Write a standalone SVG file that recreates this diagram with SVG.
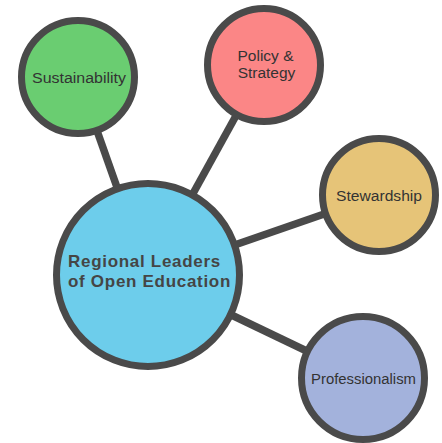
<svg xmlns="http://www.w3.org/2000/svg" width="442" height="443" viewBox="0 0 442 443">
<style>
.c{stroke:#4a4a4a;stroke-width:7}
.l{stroke:#4a4a4a;stroke-width:7.5;fill:none}
.t{font-family:"Liberation Sans",Arial,sans-serif;font-size:15.5px;fill:#333333;text-anchor:middle}
.m{font-family:"Liberation Sans",Arial,sans-serif;font-size:17px;font-weight:bold;fill:#454545;letter-spacing:0.7px}
</style>
<rect width="442" height="443" fill="#ffffff"/>
<g id="connectors">
<line class="l" x1="148" y1="275" x2="78" y2="77"/>
<line class="l" x1="148" y1="275" x2="264" y2="65"/>
<line class="l" x1="148" y1="275" x2="379" y2="195"/>
<line class="l" x1="148" y1="275" x2="363" y2="378"/>
</g>
<g id="center">
<circle class="c" cx="148" cy="275" r="91.5" fill="#6dcdeb"/>
<text class="m" x="68" y="267">Regional Leaders</text>
<text class="m" x="68" y="287">of Open Education</text>
</g>
<g id="sustainability">
<circle class="c" cx="78" cy="77" r="56.5" fill="#6acd71"/>
<text class="t" x="79" y="83" textLength="94" lengthAdjust="spacingAndGlyphs">Sustainability</text>
</g>
<g id="policy">
<circle class="c" cx="264" cy="65" r="56.5" fill="#fb8686"/>
<text class="t" x="265.5" y="61">Policy &amp;</text>
<text class="t" x="266.5" y="78">Strategy</text>
</g>
<g id="stewardship">
<circle class="c" cx="379" cy="195" r="56.5" fill="#e6c478"/>
<text class="t" x="379" y="201" textLength="86" lengthAdjust="spacingAndGlyphs">Stewardship</text>
</g>
<g id="professionalism">
<circle class="c" cx="363" cy="378" r="61.5" fill="#a3b2dc"/>
<text class="t" x="363.5" y="384" textLength="105" lengthAdjust="spacingAndGlyphs">Professionalism</text>
</g>
</svg>
